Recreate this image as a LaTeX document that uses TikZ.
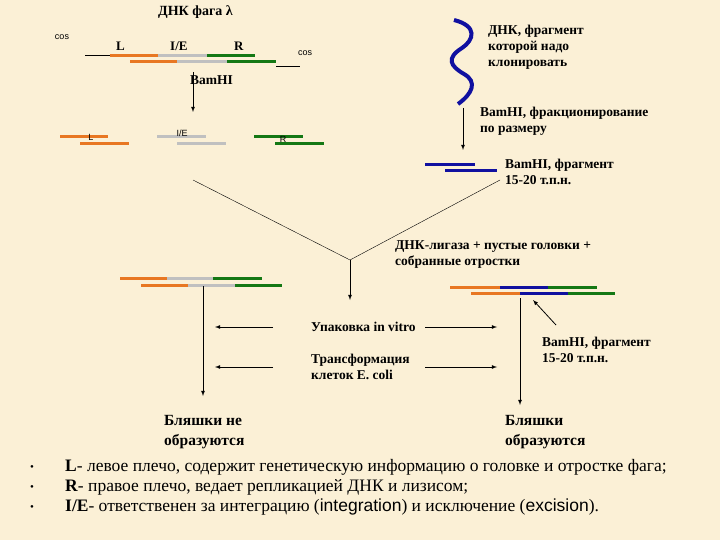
\documentclass[tikz,border=0pt]{standalone}
\usepackage{fontspec}
\setmainfont{Liberation Serif}
\newfontfamily\sans{Liberation Sans}
\definecolor{corg}{RGB}{232,119,34}
\definecolor{cgry}{RGB}{192,192,192}
\definecolor{cgrn}{RGB}{20,120,20}
\definecolor{cblu}{RGB}{16,16,160}
\definecolor{cbg}{RGB}{251,240,214}
\begin{document}
\begin{tikzpicture}[x=1pt,y=-1pt,
  org/.style={draw=corg,line width=3pt},
  gry/.style={draw=cgry,line width=3pt},
  grn/.style={draw=cgrn,line width=3pt},
  blu/.style={draw=cblu,line width=3pt},
  lbl/.style={font=\fontsize{13.5}{16}\selectfont\bfseries,align=left,anchor=west,inner sep=0pt},
  big/.style={lbl,font=\fontsize{15.5}{20}\selectfont\bfseries},
  bot/.style={lbl,font=\fontsize{17.5}{20}\selectfont},
  sm/.style={font=\sans\fontsize{9}{10}\selectfont,inner sep=0pt},
  arr/.style={-latex,thick}]
\fill[cbg] (0,0) rectangle (720,540);
\useasboundingbox (0,0) rectangle (720,540);
\node[lbl,font=\fontsize{14}{16}\selectfont\bfseries] (title) at (158,12) {ДНК фага λ};
\node[sm] (cos1) at (62,37) {cos};
\node[sm] (cos2) at (305,53) {cos};
\node[lbl,font=\fontsize{13}{15}\selectfont\bfseries] (lL) at (116,46) {L};
\node[lbl,font=\fontsize{13}{15}\selectfont\bfseries] (lIE) at (170,46) {I/E};
\node[lbl,font=\fontsize{13}{15}\selectfont\bfseries] (lR) at (234,46) {R};
\draw (85,55) -- (110,55);
\draw[org] (110,56)--(158,56); \draw[gry] (158,56)--(207,56); \draw[grn] (207,56)--(255,56);
\draw[org] (130,62)--(177,62); \draw[gry] (177,62)--(227,62); \draw[grn] (227,62)--(276,62);
\draw (276,66) -- (300,66);
\coordinate (a1) at (193,72); \coordinate (a2) at (193,112);
\draw[arr] (a1) -- (a2);
\node[lbl] (bam1) at (190,80) {BamHI};
\draw[org] (60,137)--(108,137); \draw[org] (80,144)--(129,144);
\draw[gry] (157,137)--(206,137); \draw[gry] (177,144)--(226,144);
\draw[grn] (254,137)--(303,137); \draw[grn] (275,144)--(324,144);
\node[sm] (fL) at (91,137) {L};
\node[sm] (fIE) at (182,133) {I/E};
\node[sm] (fR) at (283,139) {R};
% wavy DNA
\draw[blu,line width=4pt] (454,20) .. controls (478,26) and (474,40) .. (462,48)
  .. controls (446,58) and (450,66) .. (464,74) .. controls (478,82) and (472,94) .. (458,104);
\node[lbl] (dnk) at (488,47) {ДНК, фрагмент\\которой надо\\клонировать};
\coordinate (b1) at (463,108); \coordinate (b2) at (463,150);
\draw[arr] (b1) -- (b2);
\node[lbl] (frac) at (480,121) {BamHI, фракционирование\\по размеру};
\draw[blu] (425,165)--(475,165); \draw[blu] (445,171)--(497,171);
\node[lbl] (frag1) at (505,172) {BamHI, фрагмент\\15-20 т.п.н.};
\coordinate (j1) at (193,180); \coordinate (j2) at (500,180); \coordinate (j) at (350,260);
\draw (j1) -- (j) -- (j2);
\coordinate (j3) at (350,300);
\draw[arr] (j) -- (j3);
\node[lbl] (lig) at (395,255) {ДНК-лигаза + пустые головки +\\собранные отростки};
\draw[org] (120,278)--(167,278); \draw[gry] (167,278)--(213,278); \draw[grn] (213,278)--(262,278);
\draw[org] (141,285)--(188,285); \draw[gry] (188,285)--(235,285); \draw[grn] (235,285)--(282,285);
\draw[org] (450,287)--(500,287); \draw[blu] (500,287)--(548,287); \draw[grn] (548,287)--(597,287);
\draw[org] (471,293)--(520,293); \draw[blu] (520,293)--(568,293); \draw[grn] (568,293)--(615,293);
\coordinate (c1) at (203,286); \coordinate (c2) at (203,396);
\draw[arr] (c1) -- (c2);
\coordinate (d1) at (520,298); \coordinate (d2) at (520,405);
\draw[arr] (d1) -- (d2);
\coordinate (e1) at (556,325); \coordinate (e2) at (533,300);
\draw[arr] (e1) -- (e2);
\node[lbl] (frag2) at (542,350) {BamHI, фрагмент\\15-20 т.п.н.};
\node[lbl] (pack) at (311,327) {Упаковка in vitro};
\node[lbl] (tr) at (311,367) {Трансформация\\клеток E. coli};
\coordinate (p1) at (273,327); \coordinate (p2) at (215,327);
\coordinate (p3) at (425,327); \coordinate (p4) at (497,327);
\coordinate (t1) at (273,367); \coordinate (t2) at (215,367);
\coordinate (t3) at (425,367); \coordinate (t4) at (497,367);
\draw[arr] (p1)--(p2); \draw[arr] (p3)--(p4);
\draw[arr] (t1)--(t2); \draw[arr] (t3)--(t4);
\node[big] (no) at (164,432) {Бляшки не\\образуются};
\node[big] (yes) at (505,432) {Бляшки\\образуются};
\node[lbl,font=\fontsize{11}{15}\selectfont] (b1t) at (30,468) {•};
\node[lbl,font=\fontsize{11}{15}\selectfont] (b2t) at (30,488) {•};
\node[lbl,font=\fontsize{11}{15}\selectfont] (b3t) at (30,508) {•};
\node[bot] (t1x) at (65,467) {\textbf{L}- левое плечо, содержит генетическую информацию о головке и отростке фага;};
\node[bot] (t2x) at (65,487) {\textbf{R}- правое плечо, ведает репликацией ДНК и лизисом;};
\node[bot] (t3x) at (65,507) {\textbf{I/E}- ответственен за интеграцию ({\sans integration}) и исключение ({\sans excision}).};
\end{tikzpicture}
\end{document}
